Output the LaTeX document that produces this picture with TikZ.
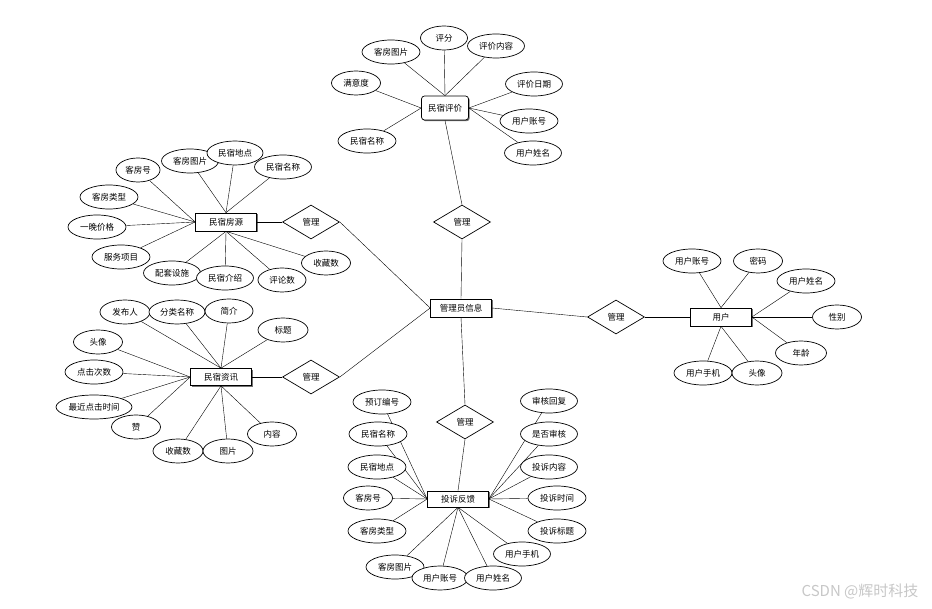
\documentclass[tikz,border=0pt]{standalone}
\usepackage{fontspec}
\setmainfont{Noto Sans CJK SC}
\usetikzlibrary{shapes.geometric,shadows,backgrounds}
\begin{document}
\begin{tikzpicture}[x=1pt,y=-1pt,line width=0.7pt,
  font=\fontsize{8.5}{10}\selectfont,
  ent/.style={draw,fill=white,minimum width=61pt,minimum height=18pt,inner sep=1pt,
    drop shadow={shadow xshift=1.2pt,shadow yshift=-1.2pt,fill=black,opacity=0.55}},
  attr/.style={draw,fill=white,ellipse,minimum width=49pt,minimum height=24pt,inner sep=0pt},
  lattr/.style={attr,minimum width=58pt},
  rel/.style={draw,fill=white,diamond,minimum width=57pt,minimum height=34pt,inner sep=0pt}]
\useasboundingbox (0,0) rectangle (932,609);
% entities
\node[ent] (admin) at (461,308) {管理员信息};
\node[ent,rounded corners=3pt,minimum width=47pt,minimum height=24pt] (review) at (445,108) {民宿评价};
\node[ent] (house) at (226,222) {民宿房源};
\node[ent,minimum height=17pt] (news) at (221,377) {民宿资讯};
\node[ent] (user) at (721,317) {用户};
\node[ent,minimum height=16pt] (fb) at (458,499) {投诉反馈};
% relations
\node[rel] (m1) at (462,222) {管理};
\node[rel] (m2) at (311,222) {管理};
\node[rel] (m3) at (311,377) {管理};
\node[rel] (m4) at (616,317) {管理};
\node[rel] (m5) at (465,422) {管理};
% 民宿评价
\node[lattr] (r1) at (391,52) {客房图片};
\node[attr,minimum width=47pt] (r2) at (444,38) {评分};
\node[lattr,minimum width=57pt] (r3) at (496,46) {评价内容};
\node[attr] (r4) at (356,83) {满意度};
\node[lattr] (r5) at (367,141) {民宿名称};
\node[lattr,minimum width=57pt] (r6) at (534,84) {评价日期};
\node[lattr] (r7) at (529,121) {用户账号};
\node[lattr,minimum width=57pt] (r8) at (533,153) {用户姓名};
% 民宿房源
\node[attr,minimum width=44pt] (h1) at (138,170) {客房号};
\node[lattr,minimum width=57pt] (h2) at (190,161) {客房图片};
\node[lattr,minimum width=56pt] (h3) at (235,153) {民宿地点};
\node[lattr,minimum width=57pt] (h4) at (283,167) {民宿名称};
\node[lattr] (h5) at (109,197) {客房类型};
\node[lattr] (h6) at (97,227) {一晚价格};
\node[lattr] (h7) at (121,257) {服务项目};
\node[lattr,minimum width=57pt] (h8) at (172,273) {配套设施};
\node[lattr,minimum width=57pt] (h9) at (225,278) {民宿介绍};
\node[attr,minimum width=48pt] (h10) at (282,280) {评论数};
\node[attr] (h11) at (326,263) {收藏数};
% 民宿资讯
\node[attr,minimum width=50pt] (n1) at (125,312) {发布人};
\node[lattr,minimum width=56pt] (n2) at (177,312) {分类名称};
\node[attr,minimum width=48pt] (n3) at (229,311) {简介};
\node[attr,minimum width=50pt] (n4) at (283,330) {标题};
\node[attr] (n5) at (98,342) {头像};
\node[lattr] (n6) at (94,372) {点击次数};
\node[attr,minimum width=76pt] (n7) at (94,407) {最近点击时间};
\node[attr] (n8) at (136,427) {赞};
\node[attr,minimum width=50pt] (n9) at (178,451) {收藏数};
\node[attr,minimum width=50pt] (n10) at (228,451) {图片};
\node[attr] (n11) at (272,434) {内容};
% 用户
\node[lattr] (u1) at (692,261) {用户账号};
\node[attr] (u2) at (758,261) {密码};
\node[lattr] (u3) at (806,281) {用户姓名};
\node[attr] (u4) at (837,317) {性别};
\node[attr,minimum width=51pt] (u5) at (801,353) {年龄};
\node[lattr] (u6) at (703,373) {用户手机};
\node[attr,minimum width=50pt] (u7) at (757,373) {头像};
% 投诉反馈
\node[lattr] (f1) at (382,402) {预订编号};
\node[lattr] (f2) at (378,434) {民宿名称};
\node[lattr] (f3) at (377,467) {民宿地点};
\node[attr] (f4) at (368,498) {客房号};
\node[lattr] (f5) at (377,531) {客房类型};
\node[lattr] (f6) at (395,567) {客房图片};
\node[lattr,minimum width=56pt] (f7) at (440,578) {用户账号};
\node[lattr,minimum width=57pt] (f8) at (493,578) {用户姓名};
\node[lattr,minimum width=57pt] (f9) at (522,554) {用户手机};
\node[lattr,minimum width=57pt] (f10) at (549,401) {审核回复};
\node[lattr,minimum width=57pt] (f11) at (549,434) {是否审核};
\node[lattr,minimum width=57pt] (f12) at (549,467) {投诉内容};
\node[lattr] (f13) at (557,498) {投诉时间};
\node[lattr] (f14) at (557,531) {投诉标题};
% watermark
\node[text=black!22,font=\fontsize{15}{17}\selectfont,inner sep=0pt] (wm) at (860,591) {CSDN @辉时科技};
% connectors, behind the shapes
\begin{pgfonlayer}{background}
\draw (review.south) -- (m1.north);
\draw (m1.south) -- (admin.north);
\draw (house.east) -- (m2.west);
\draw (m2.east) -- (admin.west);
\draw (news.east) -- (m3.west);
\draw (m3.east) -- (admin.west);
\draw (admin.east) -- (m4.west);
\draw (m4.east) -- (user.west);
\draw (admin.south) -- (m5.north);
\draw (m5.south) -- (fb.north);
\foreach \a in {r1,r2,r3} \draw (\a) -- (review.north);
\foreach \a in {r4,r5} \draw (\a) -- (review.west);
\foreach \a in {r6,r7,r8} \draw (\a) -- (review.east);
\foreach \a in {h1,h5,h6,h7} \draw (\a) -- (house.west);
\foreach \a in {h2,h3,h4} \draw (\a) -- (house.north);
\foreach \a in {h8,h9,h10,h11} \draw (\a) -- (house.south);
\foreach \a in {n1,n2,n3,n4} \draw (\a) -- (news.north);
\foreach \a in {n5,n6,n7,n8} \draw (\a) -- (news.west);
\foreach \a in {n9,n10,n11} \draw (\a) -- (news.south);
\foreach \a in {u1,u2} \draw (\a) -- (user.north);
\foreach \a in {u3,u4,u5} \draw (\a) -- (user.east);
\foreach \a in {u6,u7} \draw (\a) -- (user.south);
\foreach \a in {f1,f2,f3,f4,f5} \draw (\a) -- (fb.west);
\foreach \a in {f6,f7,f8,f9} \draw (\a) -- (fb.south);
\foreach \a in {f10,f11,f12,f13,f14} \draw (\a) -- (fb.east);
\end{pgfonlayer}
\end{tikzpicture}
\end{document}
